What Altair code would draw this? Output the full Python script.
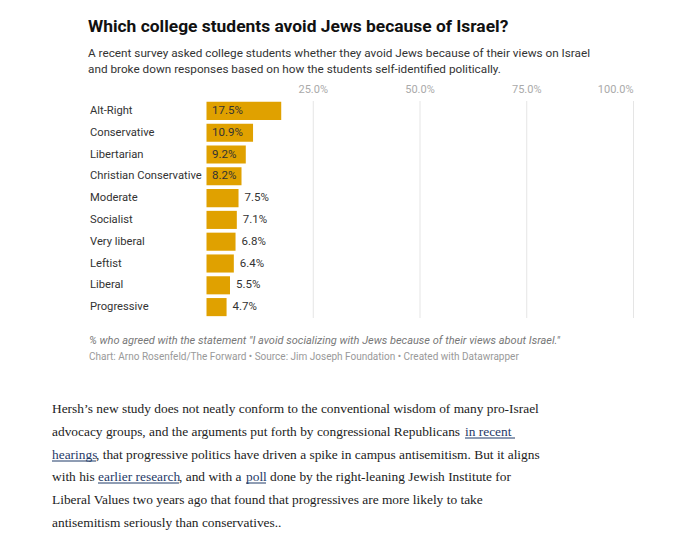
import altair as alt
import pandas as pd

# ---- data ----
categories = ["Alt-Right", "Conservative", "Libertarian", "Christian Conservative",
              "Moderate", "Socialist", "Very liberal", "Leftist", "Liberal", "Progressive"]
values = [17.5, 10.9, 9.2, 8.2, 7.5, 7.1, 6.8, 6.4, 5.5, 4.7]
tick_values = [25, 50, 75, 100]
tick_labels = ["25.0%", "50.0%", "75.0%", "100.0%"]

title_text = "Which college students avoid Jews because of Israel?"
subtitle_lines = [
    "A recent survey asked college students whether they avoid Jews because of their views on Israel",
    "and broke down responses based on how the students self-identified politically.",
]
note_text = "% who agreed with the statement \"I avoid socializing with Jews because of their views about Israel.\""
source_text = "Chart: Arno Rosenfeld/The Forward \u2022 Source: Jim Joseph Foundation \u2022 Created with Datawrapper"

W, H = 667, 530
def P(v):
    return v - 8  # page px -> chart px

SANS = "Roboto"
SERIF = "Liberation Serif"
BAR = "#e0a100"
LINK = "#1f3a68"
BODY = "#222222"

df = pd.DataFrame({"cat": categories, "val": values})
df["label"] = [f"{v:.1f}%" for v in values]
df["inside"] = df["val"] >= 8
ticks_df = pd.DataFrame({"t": tick_values, "lab": tick_labels})
last_tick = max(tick_values)

xs = alt.Scale(domain=[0, 100], range=[P(206.5), P(633.5)])
ys = alt.Scale(domain=categories, range=[P(100), P(318)], paddingInner=0.17, paddingOuter=0.085)
Y = alt.Y("cat:N", scale=ys, axis=None, sort=categories)

grid = alt.Chart(ticks_df).mark_rule(color="#e5e5e5", strokeWidth=1).encode(
    x=alt.X("t:Q", scale=xs, axis=None),
    y=alt.value(P(101)), y2=alt.value(P(318)))
tlabels = alt.Chart(ticks_df).transform_filter(f"datum.t < {last_tick}").mark_text(
    font=SANS, fontSize=11, color="#aaaaaa", align="center", baseline="middle").encode(
    x=alt.X("t:Q", scale=xs, axis=None), y=alt.value(P(90)), text="lab:N")
tlabel_last = alt.Chart(ticks_df).transform_filter(f"datum.t == {last_tick}").mark_text(
    font=SANS, fontSize=11, color="#aaaaaa", align="right", baseline="middle").encode(
    x=alt.X("t:Q", scale=xs, axis=None), y=alt.value(P(90)), text="lab:N")

bars = alt.Chart(df).mark_bar(color=BAR).encode(
    x=alt.X("val:Q", scale=xs, axis=None),
    x2=alt.datum(0),
    y=Y)

lab_in = alt.Chart(df).transform_filter("datum.inside").transform_calculate(zero="0").mark_text(
    font=SANS, fontSize=11.5, color="#333333", align="left", baseline="middle", dx=5.5).encode(
    x=alt.X("zero:Q", scale=xs, axis=None), y=Y, text="label:N")

lab_out = alt.Chart(df).transform_filter("!datum.inside").mark_text(
    font=SANS, fontSize=11.5, color="#333333", align="left", baseline="middle", dx=6).encode(
    x=alt.X("val:Q", scale=xs, axis=None), y=Y, text="label:N")

cat_labels = alt.Chart(df).mark_text(
    font=SANS, fontSize=11.2, color="#333333", align="left", baseline="middle").encode(
    x=alt.value(P(90)), y=Y, text="cat:N")

one = alt.Data(values=[{}])
def txt(s, x, y, size, color, font=SANS, weight="normal", style="normal"):
    return alt.Chart(one).mark_text(text=s, font=font, fontSize=size, color=color,
                                    fontWeight=weight, fontStyle=style,
                                    align="left", baseline="alphabetic").encode(
        x=alt.value(P(x)), y=alt.value(P(y)))

def uline(x1, x2, y):
    return alt.Chart(one).mark_rule(color=LINK, strokeWidth=1).encode(
        x=alt.value(P(x1)), x2=alt.value(P(x2)), y=alt.value(P(y)))

layers = [grid, tlabels, tlabel_last, bars, lab_in, lab_out, cat_labels]
layers.append(txt(title_text, 88, 32, 17.4, "#111111", weight="bold"))
layers.append(txt(subtitle_lines[0], 88, 57, 11.75, "#333333"))
layers.append(txt(subtitle_lines[1], 88, 73, 11.75, "#333333"))
layers.append(txt(note_text, 89, 344, 11, "#777777", style="italic"))
layers.append(txt(source_text, 89, 360, 10, "#999999"))

# article paragraph
fs = 13.4
layers += [
    txt("Hersh\u2019s new study does not neatly conform to the conventional wisdom of many pro-Israel", 52, 413, fs, BODY, SERIF),
    txt("advocacy groups, and the arguments put forth by congressional Republicans", 52, 436, fs, BODY, SERIF),
    txt("in recent", 465, 436, fs, LINK, SERIF), uline(465, 515, 438),
    txt("hearings", 52, 459, fs, LINK, SERIF), uline(52, 96, 461),
    txt(", that progressive politics have driven a spike in campus antisemitism. But it aligns", 96, 459, fs, BODY, SERIF),
    txt("with his", 52, 481, fs, BODY, SERIF),
    txt("earlier research", 98, 481, fs, LINK, SERIF), uline(98, 179, 483),
    txt(", and with a", 179, 481, fs, BODY, SERIF),
    txt("poll", 246, 481, fs, LINK, SERIF), uline(246, 266, 483),
    txt("done by the right-leaning Jewish Institute for", 270, 481, fs, BODY, SERIF),
    txt("Liberal Values two years ago that found that progressives are more likely to take", 52, 504, fs, BODY, SERIF),
    txt("antisemitism seriously than conservatives..", 52, 527, fs, BODY, SERIF),
]

chart = alt.layer(*layers).properties(
    width=W, height=H, padding=0, autosize=alt.AutoSizeParams(type="none"),
    background="white"
).configure_view(stroke=None)

chart.save("out.html", embed_options={"renderer": "svg", "actions": False})
